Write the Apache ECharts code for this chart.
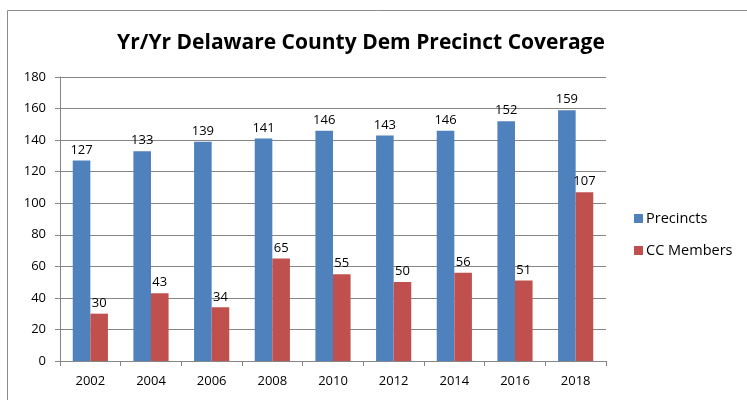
<!DOCTYPE html>
<html>
<head>
<meta charset="utf-8">
<script src="https://cdn.jsdelivr.net/npm/echarts@6/dist/echarts.min.js"></script>
<style>
  html, body { margin: 0; padding: 0; background: #fff; }
  #chart { width: 747px; height: 400px; }
</style>
</head>
<body>
<div id="chart"></div>
<script>
// Chart data
const years = ['2002', '2004', '2006', '2008', '2010', '2012', '2014', '2016', '2018'];
const precincts = [127, 133, 139, 141, 146, 143, 146, 152, 159];
const ccMembers = [30, 43, 34, 65, 55, 50, 56, 51, 107];
const seriesNames = ['Precincts', 'CC Members'];
const titleText = 'Yr/Yr Delaware County Dem Precinct Coverage';

const FONT = 'Open Sans, Liberation Sans, sans-serif';
const COLORS = ['#4F81BD', '#C0504D'];

const chart = echarts.init(document.getElementById('chart'));

const labelStyle = {
    show: true,
    position: 'top',
    distance: 4,
    color: '#000',
    fontFamily: FONT,
    fontSize: 13
};

const option = {
    animation: false,
    title: {
        text: titleText,
        left: 356,
        textAlign: 'center',
        top: 28,
        textStyle: {
            fontFamily: FONT,
            fontWeight: 'bold',
            fontSize: 21,
            color: '#000'
        }
    },
    graphic: [{
        type: 'polyline',
        shape: { points: [[7.5, 400], [7.5, 10.5], [760, 10.5]] },
        style: { fill: 'none', stroke: '#8c8c8c', lineWidth: 1 }
    }],
    legend: {
        orient: 'vertical',
        left: 629,
        top: 206,
        itemWidth: 9,
        itemHeight: 9,
        itemGap: 17,
        icon: 'rect',
        textStyle: { fontFamily: FONT, fontSize: 14.5, color: '#000', padding: [0, 0, 0, -2] },
        data: seriesNames
    },
    grid: {
        left: 60,
        right: 141,
        top: 77,
        bottom: 39
    },
    xAxis: {
        type: 'category',
        data: years,
        axisLine: { lineStyle: { color: '#868686' } },
        axisTick: { show: true, length: 5, lineStyle: { color: '#868686' } },
        axisLabel: { fontFamily: FONT, fontSize: 13, color: '#000', margin: 14 }
    },
    yAxis: {
        type: 'value',
        min: 0,
        max: 180,
        interval: 20,
        axisLine: { show: true, lineStyle: { color: '#868686' } },
        axisTick: { show: true, length: 5, lineStyle: { color: '#868686' } },
        axisLabel: { fontFamily: FONT, fontSize: 13, color: '#000', margin: 14 },
        splitLine: { lineStyle: { color: '#868686' } }
    },
    series: [
        {
            name: seriesNames[0],
            type: 'bar',
            data: precincts,
            itemStyle: { color: COLORS[0] },
            barGap: '0%',
            barCategoryGap: '42%',
            label: labelStyle
        },
        {
            name: seriesNames[1],
            type: 'bar',
            data: ccMembers,
            itemStyle: { color: COLORS[1] },
            barGap: '0%',
            barCategoryGap: '42%',
            label: labelStyle
        }
    ]
};

chart.setOption(option);
</script>
</body>
</html>
